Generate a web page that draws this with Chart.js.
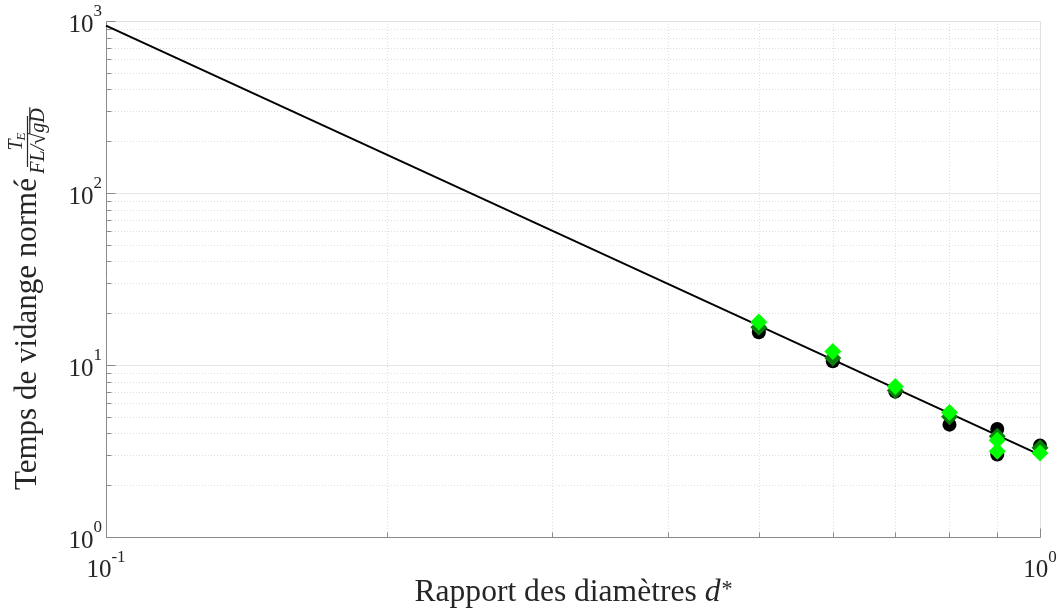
<!DOCTYPE html>
<html>
<head>
<meta charset="utf-8">
<script src="https://cdn.jsdelivr.net/npm/chart.js@4.4.0/dist/chart.umd.min.js"></script>
<style>
html,body{margin:0;padding:0;background:#fff;}
#wrap{width:1059px;height:609px;position:relative;}
</style>
</head>
<body>
<div id="wrap"><canvas id="c" width="1059" height="609"></canvas></div>
<script>
// ---- axis ticks ----
const xMajorTicks = [0.1, 1];
const xMajorExp = ['-1', '0'];
const xMinorTicks = [0.2, 0.3, 0.4, 0.5, 0.6, 0.7, 0.8, 0.9];
const yMajorTicks = [1, 10, 100, 1000];
const yMajorExp = ['0', '1', '2', '3'];
const yMinorTicks = [2,3,4,5,6,7,8,9,20,30,40,50,60,70,80,90,200,300,400,500,600,700,800,900];

// ---- data ----
const fitX = [0.1, 1];
const fitY = [940, 3.0];

const blackX = [0.5, 0.6, 0.7, 0.8, 0.9, 0.9, 1.0];
const blackY = [15.5, 10.5, 7.0, 4.5, 4.25, 3.02, 3.4];

const darkGreenX = [0.5, 0.6, 0.7, 0.8, 0.9, 1.0];
const darkGreenY = [16.6, 11.0, 7.1, 5.0, 3.85, 3.3];

const greenX = [0.5, 0.6, 0.7, 0.8, 0.9, 0.9, 1.0];
const greenY = [17.8, 12.0, 7.5, 5.3, 3.65, 3.15, 3.08];

const pts = (xs, ys) => xs.map((v, i) => ({x: v, y: ys[i]}));

const SERIF = '"Liberation Serif", "DejaVu Serif", serif';

function fitFont(ctx, text, target, style) {
  ctx.font = style + ' 100px ' + SERIF;
  const w = ctx.measureText(text).width;
  return 100 * target / w;
}

const decor = {
  id: 'decor',
  beforeDatasetsDraw(chart) {
    const {ctx, chartArea: a, scales: {x, y}} = chart;
    ctx.save();
    // minor grid (dotted)
    ctx.lineWidth = 1;
    ctx.strokeStyle = '#dedede';
    ctx.setLineDash([1, 2]);
    xMinorTicks.forEach(v => {
      const px = Math.round(x.getPixelForValue(v)) + 0.5;
      ctx.beginPath(); ctx.moveTo(px, a.top); ctx.lineTo(px, a.bottom); ctx.stroke();
    });
    yMinorTicks.forEach(v => {
      const py = Math.round(y.getPixelForValue(v)) + 0.5;
      ctx.beginPath(); ctx.moveTo(a.left, py); ctx.lineTo(a.right, py); ctx.stroke();
    });
    ctx.setLineDash([]);
    // major grid (solid)
    ctx.strokeStyle = '#e6e6e6';
    yMajorTicks.forEach(v => {
      const py = Math.round(y.getPixelForValue(v)) + 0.5;
      ctx.beginPath(); ctx.moveTo(a.left, py); ctx.lineTo(a.right, py); ctx.stroke();
    });
    xMajorTicks.forEach(v => {
      const px = Math.round(x.getPixelForValue(v)) + 0.5;
      ctx.beginPath(); ctx.moveTo(px, a.top); ctx.lineTo(px, a.bottom); ctx.stroke();
    });
    // frame top/right
    const L = Math.round(a.left) + 0.5, R = Math.round(a.right) + 0.5;
    const T = Math.round(a.top) + 0.5, B = Math.round(a.bottom) + 0.5;
    ctx.strokeStyle = '#e0e0e0';
    ctx.beginPath(); ctx.moveTo(L, T); ctx.lineTo(R, T); ctx.lineTo(R, B); ctx.stroke();
    // left/bottom axes
    ctx.strokeStyle = '#8a8a8a';
    ctx.beginPath(); ctx.moveTo(L, T); ctx.lineTo(L, B); ctx.lineTo(R, B); ctx.stroke();
    // ticks (inward)
    const tick = (v, len, axis) => {
      if (axis === 'y') {
        const py = Math.round(y.getPixelForValue(v)) + 0.5;
        ctx.beginPath(); ctx.moveTo(L, py); ctx.lineTo(L + len, py); ctx.stroke();
      } else {
        const px = Math.round(x.getPixelForValue(v)) + 0.5;
        ctx.beginPath(); ctx.moveTo(px, B); ctx.lineTo(px, B - len); ctx.stroke();
      }
    };
    yMajorTicks.forEach(v => tick(v, 9, 'y'));
    yMinorTicks.forEach(v => tick(v, 5, 'y'));
    xMajorTicks.forEach(v => tick(v, 9, 'x'));
    xMinorTicks.forEach(v => tick(v, 5, 'x'));
    ctx.restore();
  },
  afterDraw(chart) {
    const {ctx, chartArea: a, scales: {x, y}} = chart;
    ctx.save();
    ctx.fillStyle = '#262626';
    const big = '25px ' + SERIF, small = '17px ' + SERIF;
    // y tick labels
    yMajorTicks.forEach((v, i) => {
      const py = y.getPixelForValue(v);
      ctx.font = small; const we = ctx.measureText(yMajorExp[i]).width;
      const right = a.left - 4;
      ctx.textBaseline = 'middle';
      ctx.textAlign = 'left'; ctx.fillText(yMajorExp[i], right - we, py - 9);
      ctx.font = big; ctx.textAlign = 'right'; ctx.fillText('10', right - we, py + 4);
    });
    // x tick labels
    xMajorTicks.forEach((v, i) => {
      const px = x.getPixelForValue(v);
      ctx.font = small; const we = ctx.measureText(xMajorExp[i]).width;
      ctx.font = big; const wb = ctx.measureText('10').width;
      const start = px - (we + wb) / 2;
      ctx.textBaseline = 'middle'; ctx.textAlign = 'left';
      ctx.fillText('10', start, a.bottom + 33);
      ctx.font = small; ctx.fillText(xMajorExp[i], start + wb, a.bottom + 21);
    });
    // x title
    const xt = 'Rapport des diamètres ';
    const fs = fitFont(ctx, xt + 'd', 306, '');
    ctx.font = fs + 'px ' + SERIF; const w1 = ctx.measureText(xt).width;
    ctx.font = 'italic ' + fs + 'px ' + SERIF; const w2 = ctx.measureText('d').width;
    ctx.font = (fs * 0.7) + 'px ' + SERIF; const w3 = ctx.measureText('*').width;
    const xs = 573 - (w1 + w2 + w3) / 2;
    ctx.textBaseline = 'alphabetic'; ctx.textAlign = 'left';
    ctx.font = fs + 'px ' + SERIF; ctx.fillText(xt, xs, 601);
    ctx.font = 'italic ' + fs + 'px ' + SERIF; ctx.fillText('d', xs + w1, 601);
    ctx.font = (fs * 0.7) + 'px ' + SERIF; ctx.fillText('*', xs + w1 + w2 + 1, 596);

    // y title (rotated)
    ctx.translate(0, 609);
    ctx.rotate(-Math.PI / 2);
    // local (u, v) -> screen (v, 609 - u)
    const yt = 'Temps de vidange normé';
    const fy = fitFont(ctx, yt, 312, '');
    ctx.font = fy + 'px ' + SERIF;
    ctx.fillText(yt, 609 - 490, 36);
    // fraction
    const uc = 609 - 141;
    ctx.lineWidth = 1.2; ctx.strokeStyle = '#262626';
    ctx.beginPath(); ctx.moveTo(609 - 167, 27.5); ctx.lineTo(609 - 116, 27.5); ctx.stroke();
    // numerator T_E
    const nf = 'italic 20px ' + SERIF, sf = 'italic 13px ' + SERIF;
    ctx.font = nf; const wT = ctx.measureText('T').width;
    ctx.font = sf; const wE = ctx.measureText('E').width;
    let u0 = uc - (wT + wE) / 2;
    ctx.font = nf; ctx.fillText('T', u0, 22);
    ctx.font = sf; ctx.fillText('E', u0 + wT - 1, 25);
    // denominator FL/sqrt(gD)
    ctx.font = nf;
    const wFL = ctx.measureText('FL/').width;
    ctx.font = '22px ' + SERIF; const wS = ctx.measureText('√').width;
    ctx.font = nf; const wgD = ctx.measureText('gD').width;
    u0 = uc - (wFL + wS + wgD) / 2;
    ctx.font = nf; ctx.fillText('FL/', u0, 44);
    ctx.font = '22px ' + SERIF; ctx.fillText('√', u0 + wFL, 45);
    ctx.font = nf; ctx.fillText('gD', u0 + wFL + wS, 44);
    ctx.beginPath(); ctx.moveTo(u0 + wFL + wS - 1, 29.8); ctx.lineTo(u0 + wFL + wS + wgD + 1, 29.8); ctx.stroke();
    ctx.restore();
  }
};

new Chart(document.getElementById('c'), {
  type: 'scatter',
  data: {
    datasets: [
      {
        type: 'line', data: pts(fitX, fitY), borderColor: '#000', borderWidth: 2,
        pointRadius: 0, fill: false, clip: false, order: 4
      },
      {
        data: pts(blackX, blackY), pointStyle: 'circle', pointRadius: 7,
        backgroundColor: '#000', borderColor: '#000', borderWidth: 0, clip: false, order: 3
      },
      {
        data: pts(darkGreenX, darkGreenY), pointStyle: 'rectRot', pointRadius: 8.5,
        backgroundColor: '#0a800a', borderColor: '#0a800a', borderWidth: 0, clip: false, order: 2
      },
      {
        data: pts(greenX, greenY), pointStyle: 'rectRot', pointRadius: 8.5,
        backgroundColor: '#00ff00', borderColor: '#00ff00', borderWidth: 0, clip: false, order: 1
      }
    ]
  },
  options: {
    responsive: false,
    animation: false,
    devicePixelRatio: 1,
    layout: { padding: { left: 106, right: 19, top: 21, bottom: 72 } },
    plugins: { legend: { display: false }, tooltip: { enabled: false } },
    scales: {
      x: { type: 'logarithmic', min: 0.1, max: 1, display: false },
      y: { type: 'logarithmic', min: 1, max: 1000, display: false }
    }
  },
  plugins: [decor]
});
</script>
</body>
</html>
